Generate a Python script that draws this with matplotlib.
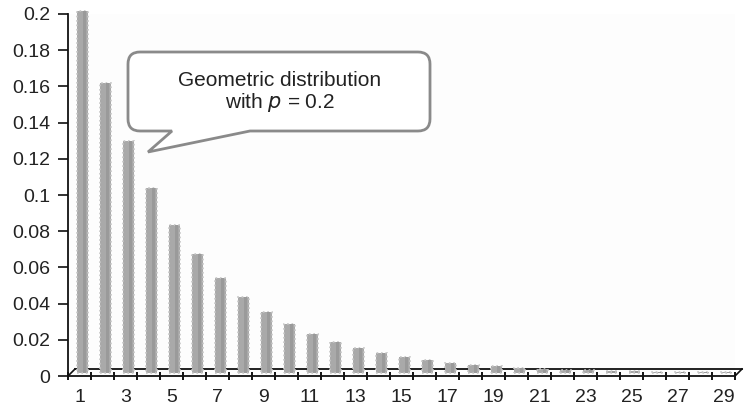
import numpy as np
import matplotlib
matplotlib.use("Agg")
import matplotlib.pyplot as plt
from matplotlib.path import Path
from matplotlib.patches import PathPatch
from matplotlib.transforms import Affine2D, IdentityTransform, offset_copy

plt.rcParams['font.family'] = ['Liberation Sans', 'DejaVu Sans']

# P(X = k) for k = 1..29
k = np.arange(1, 30)
prob = [0.2, 0.16, 0.128, 0.1024, 0.0819, 0.0655, 0.0524, 0.0419, 0.0336,
        0.0268, 0.0215, 0.0172, 0.0137, 0.011, 0.0088, 0.007, 0.0056,
        0.0045, 0.0036, 0.0029, 0.0023, 0.0018, 0.0015, 0.0012, 0.0009,
        0.0008, 0.0006, 0.0005, 0.0004]
yticks = [0, 0.02, 0.04, 0.06, 0.08, 0.1, 0.12, 0.14, 0.16, 0.18, 0.2]
xlabels = [str(i) for i in range(1, 30, 2)]

W, H = 744, 411
fig = plt.figure(figsize=(W / 100, H / 100), dpi=100)
ax = fig.add_axes([68 / W, 35 / H, 667 / W, 362 / H])
ax.set_facecolor('#fdfdfd')
ax.set_xlim(0.5, 29.5)
ax.set_ylim(0, 0.2)

# depth shift (in pixels) for the pseudo-3d look
bar_tr = offset_copy(ax.transData, fig=fig, x=3, y=3, units='dots')
floor_tr = offset_copy(ax.transData, fig=fig, x=7, y=7, units='dots')

ax.plot([0.5, 29.5], [0, 0], color='#111111', lw=1.3,
        transform=floor_tr, clip_on=False, zorder=1)
# corner diagonals of the floor
for xx in (0.5, 29.5):
    x0, y0 = ax.transData.transform((xx, 0))
    x1, y1 = floor_tr.transform((xx, 0))
    ax.plot([x0, x1], [y0, y1], color='#111111', lw=1.2,
            transform=IdentityTransform(), clip_on=False, zorder=1)

ax.bar(k, prob, width=0.44, color='#a9a9a9', edgecolor='#c6c6c6',
       linewidth=1.2, linestyle=':', transform=bar_tr, clip_on=False, zorder=2)
ax.bar(k + 0.1, prob, width=0.12, color='#9a9a9a', linewidth=0,
       transform=bar_tr, clip_on=False, zorder=3)

for s in ('top', 'right'):
    ax.spines[s].set_visible(False)
for s in ('left', 'bottom'):
    ax.spines[s].set_linewidth(1.3)
    ax.spines[s].set_color('#111111')
    ax.spines[s].set_zorder(4)

ax.set_yticks(yticks)
ax.set_yticklabels(['%g' % v for v in yticks])
ax.tick_params(axis='y', direction='out', length=7, width=1.3, pad=6,
               labelsize=14, colors='#222222')

ax.set_xticks(np.arange(0.5, 30, 1))
ax.set_xticklabels([])
ax.tick_params(axis='x', which='major', direction='inout', length=6, width=1.3)
ax.set_xticks(np.arange(1, 30, 2), minor=True)
ax.set_xticklabels(xlabels, minor=True)
ax.tick_params(axis='x', which='minor', length=0, pad=9, labelsize=14,
               colors='#222222')

# speech bubble, drawn in pixel coordinates from the top-left corner
to_fig = Affine2D().scale(1, -1).translate(0, H).scale(1 / W, 1 / H) + fig.transFigure
bx0, bx1, by0, by1, r = 128, 430, 52, 131, 12
tail_a, tail_b, tip = 172, 250, (148, 152)
verts = [(bx0 + r, by0), (bx1 - r, by0), (bx1, by0), (bx1, by0 + r),
         (bx1, by1 - r), (bx1, by1), (bx1 - r, by1),
         (tail_b, by1), tip, (tail_a, by1),
         (bx0 + r, by1), (bx0, by1), (bx0, by1 - r),
         (bx0, by0 + r), (bx0, by0), (bx0 + r, by0), (bx0 + r, by0)]
codes = [Path.MOVETO, Path.LINETO, Path.CURVE3, Path.CURVE3,
         Path.LINETO, Path.CURVE3, Path.CURVE3,
         Path.LINETO, Path.LINETO, Path.LINETO,
         Path.LINETO, Path.CURVE3, Path.CURVE3,
         Path.LINETO, Path.CURVE3, Path.CURVE3, Path.CLOSEPOLY]
bubble = PathPatch(Path(verts, codes), facecolor='white', edgecolor='#8a8a8a',
                   lw=2.0, transform=to_fig, zorder=5)
fig.patches.append(bubble)
fig.text(280 / W, 1 - 80 / H, 'Geometric distribution', ha='center',
         va='center', fontsize=15, color='#222222', zorder=6)
fig.text(280 / W, 1 - 103 / H, r'with $p$ = 0.2', ha='center', va='center',
         fontsize=15, color='#222222', zorder=6)

fig.savefig('out.png', dpi=100)
